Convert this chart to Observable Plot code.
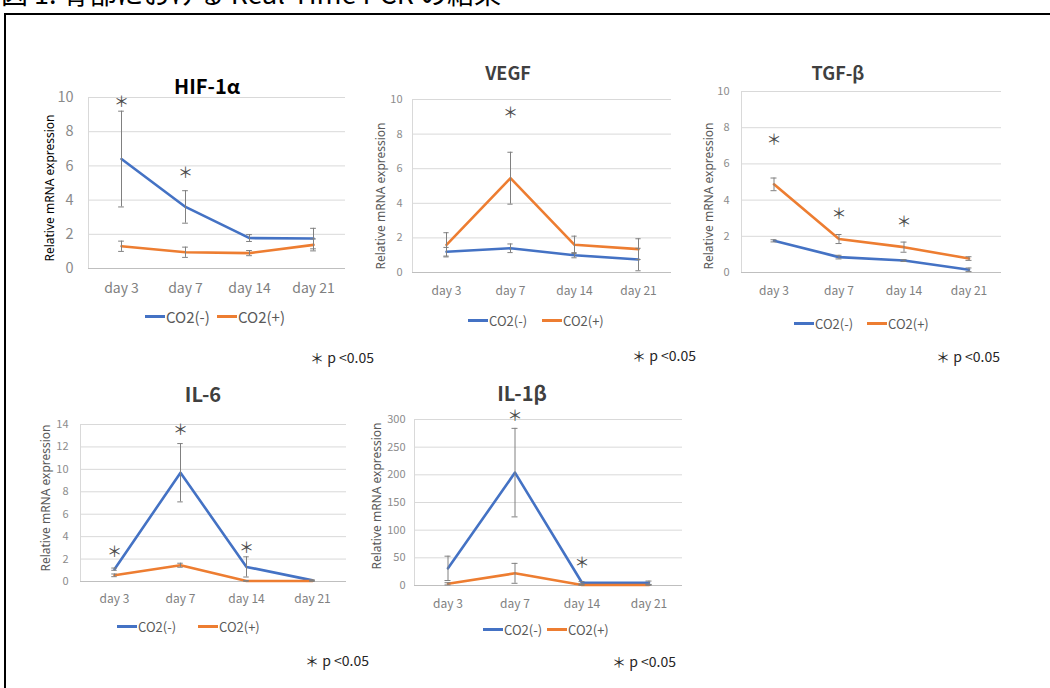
<!DOCTYPE html>
<html><head><meta charset="utf-8">
<script src="https://cdn.jsdelivr.net/npm/d3@7"></script>
<script src="https://cdn.jsdelivr.net/npm/@observablehq/plot@0.6"></script>
<style>
html,body{margin:0;padding:0;background:#fff;}
#root{position:relative;width:1050px;height:688px;overflow:hidden;font-family:"Noto Sans CJK JP","Noto Sans",sans-serif;}
#root div{white-space:nowrap;}
</style></head>
<body><div id="root"></div>
<script>
// ---------- data ----------
const pageTitle = "図 1: 骨部における Real-Time PCR の結果";
const days = ["day 3", "day 7", "day 14", "day 21"];
const seriesNames = ["CO2(-)", "CO2(+)"];
const seriesColors = ["#4472C4", "#ED7D31"];
const yAxisTitle = "Relative mRNA expression";
const noteText = "＊ p <0.05";

const hifTitle = "HIF-1α";
const hifMinus = [6.4, 3.6, 1.78, 1.75];
const hifMinusSd = [2.8, 0.95, 0.2, 0.6];
const hifPlus = [1.3, 0.95, 0.9, 1.38];
const hifPlusSd = [0.3, 0.3, 0.15, 0.35];
const hifStars = [9.7, 5.6, null, null];
const hifTicks = [0, 2, 4, 6, 8, 10];

const vegfTitle = "VEGF";
const vegfMinus = [1.2, 1.4, 1.0, 0.75];
const vegfMinusSd = [0.25, 0.25, 0.15, 0.65];
const vegfPlus = [1.6, 5.45, 1.6, 1.35];
const vegfPlusSd = [0.7, 1.5, 0.5, 0.6];
const vegfStars = [null, 9.2, null, null];
const vegfTicks = [0, 2, 4, 6, 8, 10];

const tgfTitle = "TGF-β";
const tgfMinus = [1.75, 0.85, 0.66, 0.15];
const tgfMinusSd = [0.06, 0.1, 0.05, 0.1];
const tgfPlus = [4.87, 1.85, 1.4, 0.77];
const tgfPlusSd = [0.35, 0.25, 0.28, 0.1];
const tgfStars = [7.3, 3.2, 2.8, null];
const tgfTicks = [0, 2, 4, 6, 8, 10];

const il6Title = "IL-6";
const il6Minus = [1.1, 9.7, 1.3, 0.1];
const il6MinusSd = [0.1, 2.6, 0.9, 0.05];
const il6Plus = [0.55, 1.45, 0.05, 0.05];
const il6PlusSd = [0.12, 0.18, 0.03, 0.02];
const il6Stars = [2.6, 13.5, 2.95, null];
const il6Ticks = [0, 2, 4, 6, 8, 10, 12, 14];

const il1bTitle = "IL-1β";
const il1bMinus = [31, 204, 5, 5];
const il1bMinusSd = [22, 80, 2, 3];
const il1bPlus = [3, 22, 1, 1];
const il1bPlusSd = [2, 18, 0.5, 0.5];
const il1bStars = [null, 306, 41, null];
const il1bTicks = [0, 50, 100, 150, 200, 250, 300];

// ---------- layout ----------
const root = document.getElementById("root");
function addDiv(text, css) {
  const d = document.createElement("div");
  d.textContent = text;
  Object.assign(d.style, {position: "absolute"}, css);
  root.appendChild(d);
  return d;
}

// outer box & page title
addDiv("", {left: "4px", top: "13px", width: "1100px", height: "700px", border: "2px solid #000", boxSizing: "border-box"});
addDiv(pageTitle, {left: "1px", top: "-21px", fontSize: "27px", lineHeight: "27px", color: "#000"});

const panels = [
  {title: hifTitle, minus: hifMinus, minusSd: hifMinusSd, plus: hifPlus, plusSd: hifPlusSd, stars: hifStars, ticks: hifTicks,
   frame: [88, 345, 97, 268], yFont: 14.5, xFont: 14, yFill: "#8a8a8a", yGap: 15, xPad: 15,
   titlePos: [207, 86, 20, "#000"], ylab: [50, 188, "#000"], legend: [145, 217, 316, 15], note: [310, 357]},
  {title: vegfTitle, minus: vegfMinus, minusSd: vegfMinusSd, plus: vegfPlus, plusSd: vegfPlusSd, stars: vegfStars, ticks: vegfTicks,
   frame: [412, 671, 99, 272], yFont: 11, xFont: 12, yFill: "#8c8c8c", yGap: 10, xPad: 14,
   titlePos: [508, 72, 18, "#404040"], ylab: [381, 196, "#595959"], legend: [468, 542, 320, 13], note: [632, 355]},
  {title: tgfTitle, minus: tgfMinus, minusSd: tgfMinusSd, plus: tgfPlus, plusSd: tgfPlusSd, stars: tgfStars, ticks: tgfTicks,
   frame: [741, 1001, 91, 272], yFont: 11, xFont: 12, yFill: "#8c8c8c", yGap: 12, xPad: 14,
   titlePos: [838, 72, 18, "#404040"], ylab: [709, 196, "#595959"], legend: [794, 867, 323, 13], note: [936, 356]},
  {title: il6Title, minus: il6Minus, minusSd: il6MinusSd, plus: il6Plus, plusSd: il6PlusSd, stars: il6Stars, ticks: il6Ticks,
   frame: [80, 346, 424, 581], yFont: 11, xFont: 12, yFill: "#8c8c8c", yGap: 12, xPad: 13,
   titlePos: [203, 394, 20, "#404040"], ylab: [45.5, 498, "#595959"], legend: [117, 198, 626, 13], note: [305, 660]},
  {title: il1bTitle, minus: il1bMinus, minusSd: il1bMinusSd, plus: il1bPlus, plusSd: il1bPlusSd, stars: il1bStars, ticks: il1bTicks,
   frame: [414, 682, 419, 585], yFont: 11, xFont: 12, yFill: "#8c8c8c", yGap: 9, xPad: 14,
   titlePos: [522, 393, 20, "#404040"], ylab: [376.5, 496, "#595959"], legend: [483, 547, 629, 13], note: [612, 661]}
];

const ML = 60, MR = 12, MT = 34, MB = 34;
const fontFamily = "'Noto Sans CJK JP', 'Noto Sans', sans-serif";
const capHalf = 3;

for (const p of panels) {
  const rows = [];
  days.forEach((d, i) => {
    rows.push({day: d, series: seriesNames[0], value: p.minus[i], lo: p.minus[i] - p.minusSd[i], hi: p.minus[i] + p.minusSd[i]});
  });
  days.forEach((d, i) => {
    rows.push({day: d, series: seriesNames[1], value: p.plus[i], lo: p.plus[i] - p.plusSd[i], hi: p.plus[i] + p.plusSd[i]});
  });
  const stars = days.map((d, i) => ({day: d, v: p.stars[i]})).filter(s => s.v != null);
  const [fl, fr, ft, fb] = p.frame;
  const ymax = p.ticks[p.ticks.length - 1];
  const bw = (fr - fl) / days.length;
  const inset = bw / 2 - capHalf;

  const svg = Plot.plot({
    width: fr - fl + ML + MR,
    height: fb - ft + MT + MB,
    marginLeft: ML, marginRight: MR, marginTop: MT, marginBottom: MB,
    style: {fontFamily, background: "transparent", overflow: "visible"},
    x: {type: "band", domain: days, padding: 0, align: 0.5},
    y: {domain: [0, ymax]},
    color: {domain: seriesNames, range: seriesColors},
    marks: [
      Plot.gridY(p.ticks, {stroke: "#d9d9d9", strokeOpacity: 1}),
      Plot.frame({anchor: "left", stroke: "#d9d9d9"}),
      Plot.ruleY([0], {stroke: "#bfbfbf"}),
      Plot.axisY({ticks: p.ticks, tickSize: 0, tickPadding: p.yGap, fontSize: p.yFont, fill: p.yFill, label: null}),
      Plot.axisX({tickSize: 0, tickPadding: p.xPad, fontSize: p.xFont, fill: "#808080", label: null}),
      Plot.line(rows, {x: "day", y: "value", stroke: "series", z: "series", strokeWidth: 2.6, strokeLinejoin: "round"}),
      Plot.ruleX(rows, {x: "day", y1: "lo", y2: "hi", stroke: "#808080", strokeWidth: 1}),
      Plot.tickY(rows, {x: "day", y: "lo", stroke: "#808080", strokeWidth: 1, insetLeft: inset, insetRight: inset}),
      Plot.tickY(rows, {x: "day", y: "hi", stroke: "#808080", strokeWidth: 1, insetLeft: inset, insetRight: inset}),
      Plot.text(stars, {x: "day", y: "v", text: () => "＊", fontSize: 15, fill: "#4d4d4d"})
    ]
  });
  Object.assign(svg.style, {position: "absolute", left: (fl - ML) + "px", top: (ft - MT) + "px"});
  root.appendChild(svg);

  // panel title
  const [tx, ty, tfs, tcol] = p.titlePos;
  addDiv(p.title, {left: tx + "px", top: ty + "px", transform: "translate(-50%,-50%)", fontSize: tfs + "px",
    fontWeight: "bold", color: tcol, lineHeight: "1"});
  // y-axis title
  const [lx, ly, lcol] = p.ylab;
  addDiv(yAxisTitle, {left: lx + "px", top: ly + "px", transform: "translate(-50%,-50%) rotate(-90deg)",
    fontSize: "12px", color: lcol, lineHeight: "1", fontFamily: "'Noto Sans', sans-serif"});
  // legend
  const [s1, s2, lyc, lfs] = p.legend;
  [s1, s2].forEach((sx, k) => {
    addDiv("", {left: sx + "px", top: (lyc - 1.5) + "px", width: "20px", height: "3px", background: seriesColors[k]});
    addDiv(seriesNames[k], {left: (sx + 21) + "px", top: lyc + "px", transform: "translateY(-50%)", fontSize: lfs + "px",
      color: "#595959", lineHeight: "1"});
  });
  // note
  const [nx, ny] = p.note;
  addDiv(noteText, {left: nx + "px", top: ny + "px", transform: "translateY(-50%)", fontSize: "14px", color: "#262626", lineHeight: "1"});
}
</script>
</body></html>
